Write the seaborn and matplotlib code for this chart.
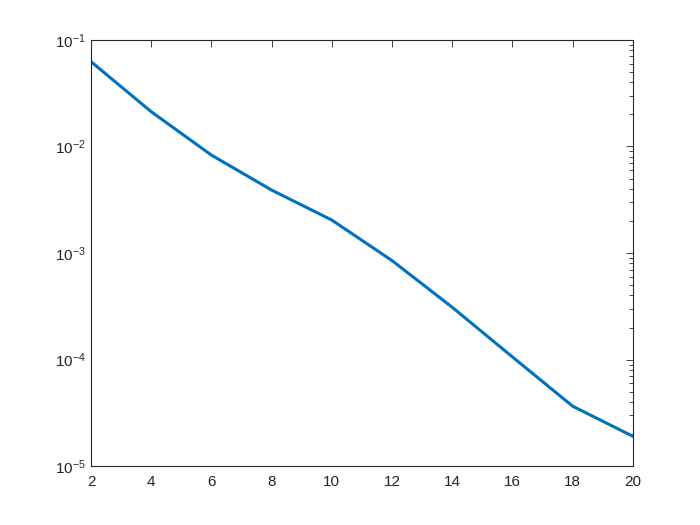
import matplotlib
matplotlib.use("Agg")
import matplotlib.pyplot as plt
import seaborn as sns
import pandas as pd

# values
n = [2, 4, 6, 8, 10, 12, 14, 16, 18, 20]
err = [0.0625, 0.0212, 0.0083, 0.0039, 0.00204, 0.00085, 0.00031, 0.000106, 0.0000366, 0.0000191]

df = pd.DataFrame({"n": n, "err": err})

sns.set_style("white")
plt.rcParams["font.family"] = ["Liberation Sans", "DejaVu Sans"]
plt.rcParams["mathtext.fontset"] = "custom"
plt.rcParams["mathtext.rm"] = "Liberation Sans"
plt.rcParams["mathtext.it"] = "Liberation Sans:italic"

fig = plt.figure(figsize=(7, 5.25), dpi=100)
ax = fig.add_axes([0.13, 0.112, 0.774, 0.812])

sns.lineplot(data=df, x="n", y="err", color="#0072BD", linewidth=2.2, ax=ax)

ax.set_yscale("log")
ax.set_xlim(2, 20)
ax.set_ylim(1e-5, 1e-1)
ax.set_xticks(range(2, 21, 2))
ax.set_xlabel("")
ax.set_ylabel("")

for s in ax.spines.values():
    s.set_color("#262626")
    s.set_linewidth(0.8)
ax.tick_params(which="both", direction="in", top=True, right=True,
               colors="#262626", labelsize=11, width=0.6)
ax.tick_params(which="major", length=5)
ax.tick_params(which="minor", length=3)
ax.tick_params(axis="x", pad=6)

fig.savefig("out.png", dpi=100, facecolor="white")
